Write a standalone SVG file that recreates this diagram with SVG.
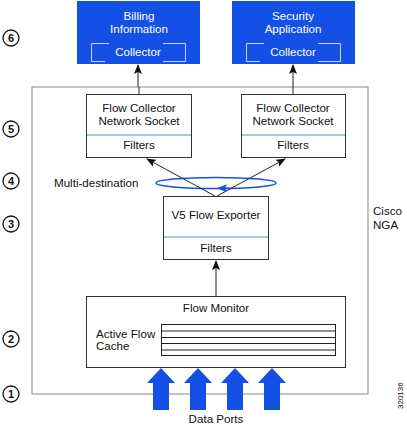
<svg xmlns="http://www.w3.org/2000/svg" width="407" height="427" viewBox="0 0 407 427">
<style>
text{font-family:"Liberation Sans",Arial,sans-serif;font-size:11.6px;fill:#111}
.w{fill:#fff}
.c{text-anchor:middle}
.box{fill:#fff;stroke:#333;stroke-width:1}
.blue{fill:#1450e6}
.div{stroke:#5a8ae6;stroke-width:1}
.num{font-weight:bold;font-size:11px;text-anchor:middle}
.circ{fill:#fff;stroke:#111;stroke-width:1.3}
.ln{stroke:#222;stroke-width:1;fill:none}
.cf{stroke:#c8d6ff;stroke-width:1;fill:none}
</style>
<defs>
<marker id="ah" markerWidth="10" markerHeight="8" refX="9" refY="4" orient="auto" markerUnits="userSpaceOnUse">
<path d="M0,0 L10,4 L0,8 L2,4 Z" fill="#111"/>
</marker>
<marker id="bh" markerWidth="10" markerHeight="8" refX="9" refY="4" orient="auto" markerUnits="userSpaceOnUse">
<path d="M0,0 L10,4 L0,8 L2,4 Z" fill="#1450e6"/>
</marker>
</defs>

<g id="steps">
<circle class="circ" cx="11" cy="38" r="8"/><text class="num" x="11" y="42">6</text>
<circle class="circ" cx="11" cy="129" r="8"/><text class="num" x="11" y="133">5</text>
<circle class="circ" cx="11" cy="181" r="8"/><text class="num" x="11" y="185">4</text>
<circle class="circ" cx="11" cy="224" r="8"/><text class="num" x="11" y="228">3</text>
<circle class="circ" cx="11" cy="339" r="8"/><text class="num" x="11" y="343">2</text>
<circle class="circ" cx="11" cy="394" r="8"/><text class="num" x="11" y="398">1</text>
</g>

<g id="nga">
<rect x="32" y="87" width="336" height="307" fill="none" stroke="#888" stroke-width="1"/>
<text x="373" y="215">Cisco</text>
<text x="373" y="229">NGA</text>
</g>

<g id="billing">
<rect class="blue" x="77" y="1" width="123" height="63"/>
<text class="w c" x="139" y="19.5">Billing</text>
<text class="w c" x="139" y="32.5">Information</text>
<path class="cf" d="M109,43.5 H91.5 V61.5 H105 M163,43.5 H185.5 V61.5 H163"/>
<text class="w c" x="138" y="56">Collector</text>
</g>

<g id="security">
<rect class="blue" x="232" y="1" width="123" height="63"/>
<text class="w c" x="293" y="19.5">Security</text>
<text class="w c" x="293" y="32.5">Application</text>
<path class="cf" d="M264,43.5 H246.5 V61.5 H260 M318,43.5 H340.5 V61.5 H318"/>
<text class="w c" x="293" y="56">Collector</text>
</g>

<g id="collector1">
<rect class="box" x="86.5" y="94.5" width="105" height="63"/>
<line class="div" x1="87" y1="135" x2="191" y2="135"/>
<text class="c" x="139" y="112">Flow Collector</text>
<text class="c" x="139" y="125">Network Socket</text>
<text class="c" x="139" y="149">Filters</text>
</g>

<g id="collector2">
<rect class="box" x="241.5" y="94.5" width="104" height="63"/>
<line class="div" x1="242" y1="135" x2="345" y2="135"/>
<text class="c" x="293" y="112">Flow Collector</text>
<text class="c" x="293" y="125">Network Socket</text>
<text class="c" x="293" y="149">Filters</text>
</g>

<g id="multidest">
<text x="54" y="187">Multi-destination</text>
<ellipse cx="216" cy="183" rx="60" ry="5.5" fill="none" stroke="#1450e6" stroke-width="1.5"/>
</g>

<g id="exporter">
<rect class="box" x="163.5" y="196.5" width="105" height="63"/>
<line class="div" x1="164" y1="237" x2="268" y2="237"/>
<text class="c" x="216" y="219">V5 Flow Exporter</text>
<text class="c" x="216" y="252">Filters</text>
</g>

<g id="monitor">
<rect class="box" x="86.5" y="296.5" width="259" height="71"/>
<text class="c" x="216" y="312">Flow Monitor</text>
<text x="96" y="337.5">Active Flow</text>
<text x="96" y="350">Cache</text>
<rect x="161.5" y="324.5" width="174" height="31" fill="#fff" stroke="#222" stroke-width="1"/>
<path class="ln" d="M162,331 H335 M162,337.5 H335 M162,343.5 H335 M162,350 H335"/>
</g>

<g id="dataports">
<path class="blue" d="M153,410 V383 H147 L161,368 L175,383 H169 V410 Z"/>
<path class="blue" d="M190,410 V383 H184 L198,368 L212,383 H206 V410 Z"/>
<path class="blue" d="M227,410 V383 H221 L235,368 L249,383 H243 V410 Z"/>
<path class="blue" d="M264,410 V383 H258 L272,368 L286,383 H280 V410 Z"/>
<text class="c" x="216" y="423">Data Ports</text>
</g>

<g id="connectors">
<line class="ln" x1="138" y1="87" x2="138" y2="65" marker-end="url(#ah)"/>
<line class="ln" x1="293" y1="87" x2="293" y2="65" marker-end="url(#ah)"/>
<line class="ln" x1="139" y1="94" x2="139" y2="87"/>
<line class="ln" x1="293" y1="94" x2="293" y2="87"/>
<line class="ln" x1="215" y1="196" x2="147" y2="159" marker-end="url(#ah)"/>
<line class="ln" x1="217" y1="196" x2="285" y2="159" marker-end="url(#ah)"/>
<line class="ln" x1="216" y1="296" x2="216" y2="261" marker-end="url(#ah)"/>
<path d="M232,188.3 L218,188.3" fill="none" stroke="#1450e6" stroke-width="1.5" marker-end="url(#bh)"/>
</g>

<text x="0" y="0" transform="translate(403,409) rotate(-90)" style="font-size:8px">320136</text>
</svg>
